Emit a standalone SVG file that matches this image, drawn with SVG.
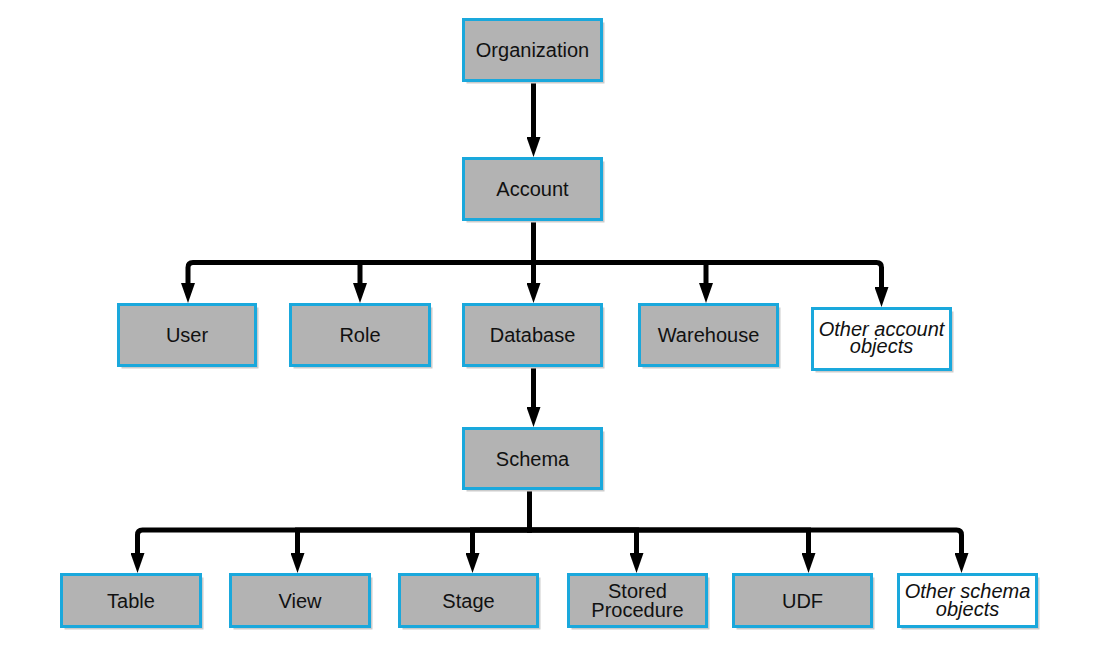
<svg xmlns="http://www.w3.org/2000/svg" width="1099" height="647" viewBox="0 0 1099 647">
<style>
.box{fill:#b3b3b3;stroke:#1aa8dc;stroke-width:3}
.obox{fill:#ffffff;stroke:#1aa8dc;stroke-width:3}
.sh{fill:#cccccc}
.t{font-family:"Liberation Sans",Arial,sans-serif;font-size:20px;fill:#111;text-anchor:middle}
.it{font-style:italic}
.c{fill:none;stroke:#000;stroke-width:5;stroke-linejoin:miter}
</style>
<defs>
<marker id="ah" viewBox="0 0 20 14" refX="10" refY="7" markerWidth="20" markerHeight="14" markerUnits="userSpaceOnUse" orient="auto">
<path d="M0,0 L20,7 L0,14 z" fill="#000"/>
</marker>
</defs>
<rect width="1099" height="647" fill="#fff"/>
<g id="connectors">
<path class="c" marker-end="url(#ah)" d="M533.5,82 V147"/>
<path class="c" marker-end="url(#ah)" d="M533.5,221 V262.5 H193 Q188,262.5 188,267.5 V293"/>
<path class="c" marker-end="url(#ah)" d="M533.5,221 V262.5 H360 V293"/>
<path class="c" marker-end="url(#ah)" d="M533.5,221 V293"/>
<path class="c" marker-end="url(#ah)" d="M533.5,221 V262.5 H706 V293"/>
<path class="c" marker-end="url(#ah)" d="M533.5,221 V262.5 H876.5 Q881.5,262.5 881.5,267.5 V297"/>
<path class="c" marker-end="url(#ah)" d="M533.5,367 V417"/>
<path class="c" marker-end="url(#ah)" d="M529.5,490 V530 H142.5 Q137.5,530 137.5,535 V563"/>
<path class="c" marker-end="url(#ah)" d="M529.5,490 V530 H297.5 V563"/>
<path class="c" marker-end="url(#ah)" d="M529.5,490 V530 H472.5 V563"/>
<path class="c" marker-end="url(#ah)" d="M529.5,490 V530 H636.5 V563"/>
<path class="c" marker-end="url(#ah)" d="M529.5,490 V530 H808.5 V563"/>
<path class="c" marker-end="url(#ah)" d="M529.5,490 V530 H956.5 Q961.5,530 961.5,535 V563"/>
</g>
<g id="organization"><rect class="sh" x="466.5" y="22.5" width="138" height="61"/><rect class="box" x="463.5" y="19.5" width="138" height="61"/><text class="t" x="532.5" y="57">Organization</text></g>
<g id="account"><rect class="sh" x="466.5" y="161.5" width="138" height="61"/><rect class="box" x="463.5" y="158.5" width="138" height="61"/><text class="t" x="532.5" y="196">Account</text></g>
<g id="user"><rect class="sh" x="121.5" y="307.5" width="137" height="61"/><rect class="box" x="118.5" y="304.5" width="137" height="61"/><text class="t" x="187" y="342">User</text></g>
<g id="role"><rect class="sh" x="293.5" y="307.5" width="139" height="61"/><rect class="box" x="290.5" y="304.5" width="139" height="61"/><text class="t" x="360" y="342">Role</text></g>
<g id="database"><rect class="sh" x="466.5" y="307.5" width="138" height="61"/><rect class="box" x="463.5" y="304.5" width="138" height="61"/><text class="t" x="532.5" y="342">Database</text></g>
<g id="warehouse"><rect class="sh" x="642.5" y="307.5" width="138" height="61"/><rect class="box" x="639.5" y="304.5" width="138" height="61"/><text class="t" x="708.5" y="342">Warehouse</text></g>
<g id="other-account"><rect class="sh" x="815.5" y="311.5" width="138" height="61"/><rect class="obox" x="812.5" y="308.5" width="138" height="61"/><text class="t it" x="881.5" y="336">Other account</text><text class="t it" x="881.5" y="353">objects</text></g>
<g id="schema"><rect class="sh" x="466.5" y="431.5" width="138" height="60"/><rect class="box" x="463.5" y="428.5" width="138" height="60"/><text class="t" x="532.5" y="466">Schema</text></g>
<g id="table"><rect class="sh" x="64.5" y="577.5" width="139" height="52"/><rect class="box" x="61.5" y="574.5" width="139" height="52"/><text class="t" x="131" y="607.5">Table</text></g>
<g id="view"><rect class="sh" x="233.5" y="577.5" width="139" height="52"/><rect class="box" x="230.5" y="574.5" width="139" height="52"/><text class="t" x="300" y="607.5">View</text></g>
<g id="stage"><rect class="sh" x="402.5" y="577.5" width="138" height="52"/><rect class="box" x="399.5" y="574.5" width="138" height="52"/><text class="t" x="468.5" y="607.5">Stage</text></g>
<g id="stored-procedure"><rect class="sh" x="571.5" y="577.5" width="138" height="52"/><rect class="box" x="568.5" y="574.5" width="138" height="52"/><text class="t" x="637.5" y="598">Stored</text><text class="t" x="637.5" y="616.5">Procedure</text></g>
<g id="udf"><rect class="sh" x="736.5" y="577.5" width="138" height="52"/><rect class="box" x="733.5" y="574.5" width="138" height="52"/><text class="t" x="802.5" y="607.5">UDF</text></g>
<g id="other-schema"><rect class="sh" x="901.5" y="577.5" width="138" height="52"/><rect class="obox" x="898.5" y="574.5" width="138" height="52"/><text class="t it" x="967.5" y="598">Other schema</text><text class="t it" x="967.5" y="615.5">objects</text></g>
</svg>
